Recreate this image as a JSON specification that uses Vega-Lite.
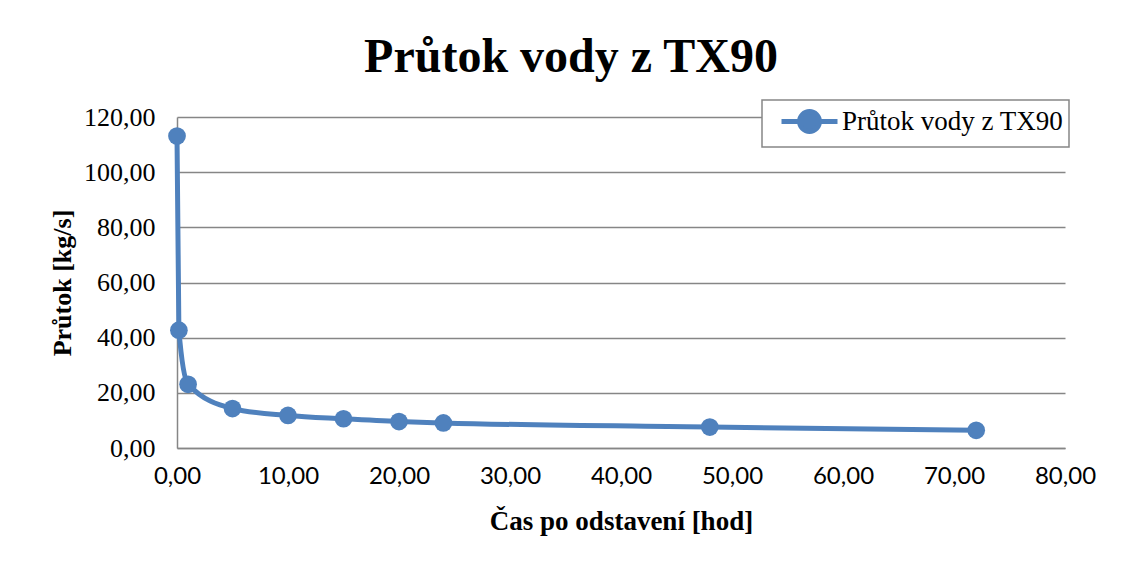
{
  "$schema": "https://vega.github.io/schema/vega-lite/v6.json",
  "width": 888,
  "height": 331,
  "autosize": {"type": "none"},
  "padding": {"left": 177, "top": 117, "right": 60, "bottom": 115},
  "background": "white",
  "title": {
    "text": "Průtok vody z TX90",
    "font": "Liberation Serif",
    "fontSize": 48,
    "fontWeight": "bold",
    "color": "black",
    "anchor": "middle",
    "dx": -50,
    "offset": 17
  },
  "config": {
    "locale": {"number": {"decimal": ",", "thousands": " ", "grouping": [3], "currency": ["", " Kč"]}},
    "view": {"stroke": null},
    "axis": {"domainColor": "#868686", "domainWidth": 1.5, "gridColor": "#868686", "gridWidth": 1.5, "ticks": false, "labelColor": "black", "titleColor": "black"}
  },
  "data": {
    "values": [
      {"t": 0, "q": 113.1, "s": "Průtok vody z TX90"},
      {"t": 0.17, "q": 42.7, "s": "Průtok vody z TX90"},
      {"t": 1, "q": 23.1, "s": "Průtok vody z TX90"},
      {"t": 5, "q": 14.3, "s": "Průtok vody z TX90"},
      {"t": 10, "q": 11.8, "s": "Průtok vody z TX90"},
      {"t": 15, "q": 10.6, "s": "Průtok vody z TX90"},
      {"t": 20, "q": 9.6, "s": "Průtok vody z TX90"},
      {"t": 24, "q": 9.1, "s": "Průtok vody z TX90"},
      {"t": 48, "q": 7.6, "s": "Průtok vody z TX90"},
      {"t": 72, "q": 6.4, "s": "Průtok vody z TX90"}
    ]
  },
  "encoding": {
    "x": {
      "field": "t", "type": "quantitative",
      "scale": {"domain": [0, 80], "nice": false, "zero": false},
      "axis": {
        "title": "Čas po odstavení [hod]",
        "titleFont": "Liberation Serif", "titleFontSize": 27, "titleFontWeight": "bold", "titlePadding": 20,
        "labelFont": "Lato", "labelFontSize": 24, "labelPadding": 16,
        "values": [0, 10, 20, 30, 40, 50, 60, 70, 80], "format": ".2f",
        "grid": false, "labelFlush": false
      }
    },
    "y": {
      "field": "q", "type": "quantitative",
      "scale": {"domain": [0, 120], "nice": false},
      "axis": {
        "title": "Průtok [kg/s]",
        "titleFont": "Liberation Serif", "titleFontSize": 26, "titleFontWeight": "bold", "titlePadding": 8,
        "labelFont": "Liberation Serif", "labelFontSize": 26, "labelPadding": 22,
        "values": [0, 20, 40, 60, 80, 100, 120], "format": ".2f",
        "grid": true, "labelFlush": false
      }
    }
  },
  "layer": [
    {
      "mark": {"type": "line", "interpolate": "monotone", "strokeWidth": 5, "color": "#4F81BD"}
    },
    {
      "mark": {"type": "point", "filled": true, "size": 314, "opacity": 1},
      "encoding": {
        "color": {
          "field": "s", "type": "nominal",
          "scale": {"range": ["#4F81BD"]},
          "legend": {
            "title": null,
            "orient": "none",
            "legendX": 585,
            "legendY": -17,
            "strokeColor": "#868686",
            "fillColor": "white",
            "padding": 5,
            "labelFont": "Liberation Serif",
            "labelFontSize": 27,
            "labelColor": "black",
            "labelLimit": 500,
            "labelOffset": 16,
            "symbolOffset": 26,
            "symbolType": "M-2,0L2,0M-0.71,0A0.71,0.71 0 1,1 0.71,0A0.71,0.71 0 1,1 -0.71,0",
            "symbolSize": 784,
            "symbolStrokeWidth": 5,
            "symbolStrokeColor": "#4F81BD",
            "symbolFillColor": "#4F81BD",
            "symbolOpacity": 1,
            "encode": {
              "legend": {"update": {"strokeWidth": {"value": 1.5}}},
              "symbols": {"update": {"stroke": {"value": "#4F81BD"}, "strokeWidth": {"value": 5}, "fill": {"value": "#4F81BD"}, "opacity": {"value": 1}}}
            }
          }
        }
      }
    }
  ]
}
